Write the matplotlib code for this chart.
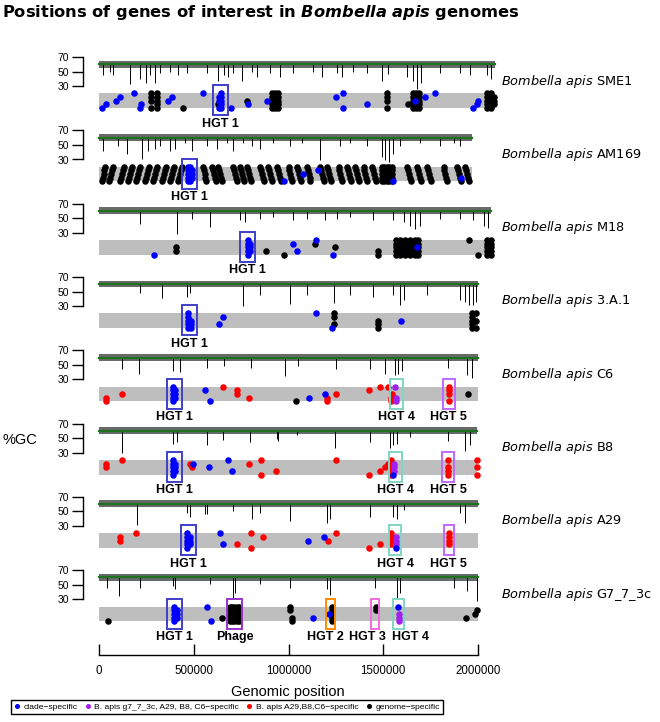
import matplotlib
matplotlib.use('Agg')
import matplotlib.pyplot as plt
from matplotlib import font_manager
from matplotlib.lines import Line2D
from matplotlib.patches import Rectangle

plt.rcParams['mathtext.fontset'] = 'custom'
plt.rcParams['mathtext.rm'] = 'DejaVu Sans'
plt.rcParams['mathtext.it'] = 'DejaVu Sans:italic'
plt.rcParams['mathtext.bf'] = 'DejaVu Sans:italic:bold'

# genome lengths in Mb
genome_names = ['SME1', 'AM169', 'M18', '3.A.1', 'C6', 'B8', 'A29', 'G7_7_3c']
genome_len = [2.09, 1.97, 2.07, 2.00, 2.00, 1.995, 2.00, 2.00]

# genes: (position Mb, stacked levels, category) b=clade, p=g7/A29/B8/C6, r=A29/B8/C6, k=genome
sme1_dots = [
    (0.014, '0', 'b'), (0.035, '1', 'b'), (0.090, '2', 'b'), (0.111, '3', 'b'),
    (0.185, '4', 'b'), (0.216, '0', 'b'), (0.223, '1', 'b'), (0.273, '0234', 'k'),
    (0.304, '01234', 'k'), (0.366, '2', 'b'), (0.387, '3', 'b'), (0.442, '0', 'k'),
    (0.551, '4', 'b'), (0.628, '1', 'k'), (0.632, '023', 'b'), (0.645, '01234', 'b'),
    (0.697, '0', 'b'), (0.779, '2', 'k'), (0.785, '1', 'b'), (0.885, '2', 'b'),
    (0.911, '01234', 'k'), (0.929, '01234', 'k'), (0.946, '01234', 'k'),
    (1.251, '3', 'b'), (1.289, '04', 'b'), (1.414, '1', 'b'), (1.518, '0234', 'k'),
    (1.632, '1', 'k'), (1.655, '01234', 'k'), (1.673, '01234', 'k'), (1.690, '01234', 'k'),
    (1.668, '2', 'b'), (1.720, '3', 'b'), (1.771, '4', 'b'),
    (1.972, '0', 'b'), (1.993, '1', 'b'), (1.998, '2', 'b'),
    (2.049, '01234', 'k'), (2.069, '01234', 'k'), (2.086, '123', 'k'),
]

am169_streak_x = [
    0.014, 0.019, 0.024, 0.029, 0.034, 0.055, 0.060, 0.065, 0.070, 0.075,
    0.111, 0.116, 0.121, 0.126, 0.131, 0.155, 0.160, 0.165, 0.170, 0.175,
    0.195, 0.200, 0.205, 0.210, 0.215, 0.243, 0.248, 0.253, 0.258, 0.263,
    0.287, 0.292, 0.297, 0.302, 0.307, 0.331, 0.336, 0.341, 0.346, 0.351,
    0.375, 0.380, 0.385, 0.390, 0.395, 0.419, 0.424, 0.429, 0.434, 0.439,
    0.547, 0.552, 0.557, 0.562, 0.567, 0.595, 0.600, 0.605, 0.610, 0.615,
    0.630, 0.635, 0.640, 0.645, 0.650, 0.709, 0.714, 0.719, 0.724, 0.729,
    0.744, 0.749, 0.754, 0.759, 0.764, 0.780, 0.785, 0.790, 0.795, 0.800,
    0.850, 0.855, 0.860, 0.865, 0.870, 0.894, 0.899, 0.904, 0.909, 0.914,
    0.938, 0.943, 0.948, 0.953, 0.958, 1.000, 1.005, 1.010, 1.015, 1.020,
    1.044, 1.049, 1.054, 1.059, 1.064, 1.096, 1.101, 1.106, 1.111, 1.116,
    1.167, 1.172, 1.177, 1.182, 1.187, 1.202, 1.207, 1.212, 1.217, 1.222,
    1.264, 1.269, 1.274, 1.279, 1.284, 1.308, 1.313, 1.318, 1.323, 1.328,
    1.352, 1.357, 1.362, 1.367, 1.372, 1.396, 1.401, 1.406, 1.411, 1.416,
    1.440, 1.445, 1.450, 1.455, 1.460, 1.624, 1.629, 1.634, 1.639, 1.644,
    1.677, 1.682, 1.687, 1.692, 1.697, 1.730, 1.735, 1.740, 1.745, 1.750,
    1.818, 1.823, 1.828, 1.833, 1.838, 1.888, 1.893, 1.898, 1.903, 1.908,
    1.933, 1.938, 1.943, 1.948, 1.953,
]
am169_streak_lvl = ('01234 01234 01234 01234 01234 01234 01234 01234 01234 01234 '
                    '43210 43210 43210 43210 43210 43210 43210 43210 43210 43210 '
                    '43210 43210 43210 43210 43210 43210 43210 43210 43210 43210 '
                    '43210 43210 43210 43210 43210').replace(' ', '')
am169_dots = [
    (0.470, '01234', 'b'), (0.480, '01234', 'b'), (0.490, '123', 'b'),
    (0.976, '0', 'b'), (1.078, '2', 'b'), (1.157, '3', 'b'),
    (1.492, '01234', 'k'), (1.505, '01234', 'k'), (1.518, '01234', 'k'),
    (1.531, '01234', 'k'), (1.544, '01234', 'k'),
    (1.553, '0', 'b'), (1.910, '1', 'b'),
]

m18_dots = [
    (0.289, '0', 'b'), (0.408, '12', 'k'), (0.785, '01234', 'b'), (0.795, '123', 'b'),
    (0.880, '1', 'k'), (0.975, '0', 'k'), (1.025, '3', 'b'), (1.047, '1', 'b'),
    (1.140, '3', 'k'), (1.145, '4', 'b'), (1.235, '0', 'b'), (1.245, '2', 'k'),
    (1.470, '01', 'k'), (1.565, '01234', 'k'), (1.590, '01234', 'k'), (1.615, '01234', 'k'),
    (1.640, '01234', 'k'), (1.665, '01234', 'k'), (1.685, '01234', 'k'), (1.676, '2', 'b'),
    (1.953, '4', 'k'), (1.998, '0', 'k'), (2.049, '01234', 'k'), (2.066, '01234', 'k'),
]

a31_dots = [
    (0.468, '01234', 'b'), (0.484, '012', 'b'), (0.633, '1', 'b'), (0.653, '3', 'b'),
    (1.145, '4', 'b'), (1.240, '134', 'k'), (1.230, '0', 'b'), (1.474, '012', 'k'),
    (1.594, '2', 'b'), (1.967, '01234', 'k'), (1.990, '024', 'k'),
]

c6_dots = [
    (0.035, '01', 'r'), (0.120, '2', 'r'), (0.390, '01234', 'b'), (0.403, '123', 'b'),
    (0.561, '3', 'b'), (0.584, '0', 'b'), (0.653, '4', 'r'), (0.727, '23', 'r'),
    (0.792, '1', 'r'), (1.040, '0', 'k'), (1.108, '1', 'b'), (1.193, '2', 'b'),
    (1.201, '01', 'r'), (1.249, '2', 'r'), (1.427, '3', 'r'), (1.483, '4', 'r'),
    (1.525, '4', 'r'), (1.540, '01', 'r'), (1.548, '2', 'r'), (1.560, '4', 'p'),
    (1.565, '01', 'p'), (1.847, '0234', 'r'), (1.949, '2', 'k'),
]

b8_dots = [
    (0.035, '23', 'r'), (0.120, '4', 'r'), (0.390, '01234', 'b'), (0.403, '123', 'b'),
    (0.480, '3', 'r'), (0.489, '2', 'r'), (0.498, '3', 'b'), (0.581, '2', 'b'),
    (0.679, '4', 'b'), (0.700, '1', 'b'), (0.792, '3', 'r'), (0.857, '04', 'r'),
    (0.934, '1', 'r'), (1.249, '4', 'r'), (1.427, '0', 'r'), (1.483, '1', 'r'),
    (1.510, '2', 'r'), (1.525, '3', 'r'), (1.540, '01234', 'r'), (1.557, '123', 'p'),
    (1.550, '0', 'b'), (1.840, '0124', 'r'), (1.993, '024', 'r'),
]

a29_dots = [
    (0.111, '23', 'r'), (0.195, '4', 'r'), (0.465, '01234', 'b'), (0.482, '123', 'b'),
    (0.639, '4', 'b'), (0.656, '1', 'b'), (0.727, '1', 'r'), (0.802, '04', 'r'),
    (0.867, '3', 'r'), (1.105, '2', 'b'), (1.189, '3', 'b'), (1.207, '2', 'r'),
    (1.249, '4', 'r'), (1.427, '0', 'r'), (1.483, '1', 'r'), (1.540, '1234', 'r'),
    (1.548, '23', 'r'), (1.565, '123', 'p'), (1.565, '0', 'b'), (1.847, '1234', 'r'),
]

g7_dots = [
    (0.046, '0', 'k'), (0.395, '01234', 'b'), (0.410, '123', 'b'), (0.568, '4', 'b'),
    (0.589, '0', 'b'), (0.647, '1', 'k'), (0.690, '01234', 'k'), (0.702, '01234', 'k'),
    (0.714, '01234', 'k'), (0.726, '01234', 'k'), (0.738, '01234', 'k'),
    (1.008, '34', 'k'), (1.020, '01', 'k'), (1.131, '1', 'b'), (1.228, '01234', 'k'),
    (1.215, '2', 'b'), (1.462, '34', 'k'), (1.576, '4', 'b'), (1.581, '012', 'p'),
    (1.937, '1', 'k'), (1.985, '2', 'k'), (1.993, '3', 'k'),
]

# %GC dips below the ~60% baseline: (position Mb, lowest %GC)
sme1_dips = [(0.023, 46), (0.058, 49), (0.076, 46), (0.164, 33), (0.216, 40), (0.246, 34),
             (0.269, 45), (0.295, 34), (0.322, 48), (0.375, 50), (0.419, 45), (0.463, 48),
             (0.568, 48), (0.630, 37), (0.657, 45), (0.683, 43), (0.709, 48), (0.753, 37),
             (0.806, 50), (0.832, 43), (0.903, 48), (0.955, 43), (1.026, 48), (1.131, 50),
             (1.176, 43), (1.255, 48), (1.281, 43), (1.343, 50), (1.414, 48), (1.492, 37),
             (1.527, 47), (1.624, 43), (1.659, 37), (1.680, 26), (1.697, 35), (1.800, 48),
             (1.905, 48), (1.958, 46), (2.050, 45), (2.070, 40)]
am169_dips = [(0.023, 42), (0.102, 49), (0.146, 38), (0.225, 31), (0.260, 42), (0.296, 45),
              (0.322, 49), (0.375, 42), (0.401, 45), (0.454, 53), (0.489, 42), (0.568, 49),
              (0.621, 45), (0.674, 53), (0.709, 42), (0.762, 53), (0.806, 49), (0.850, 45),
              (0.920, 53), (1.008, 49), (1.070, 53), (1.167, 29), (1.272, 49), (1.325, 53),
              (1.413, 49), (1.492, 33), (1.510, 29), (1.528, 26), (1.554, 38), (1.589, 49),
              (1.695, 53), (1.800, 49), (1.871, 53), (1.906, 49)]
m18_dips = [(0.216, 42), (0.410, 29), (0.489, 49), (0.586, 38), (0.744, 47), (0.771, 45),
            (0.850, 49), (0.920, 52), (1.026, 47), (1.096, 49), (1.193, 47), (1.255, 49),
            (1.325, 52), (1.448, 47), (1.554, 47), (1.607, 45), (1.642, 40), (1.668, 35),
            (1.695, 40), (1.800, 49), (1.906, 49), (1.976, 47), (2.030, 40), (2.055, 36)]
a31_dips = [(0.216, 48), (0.331, 41), (0.463, 43), (0.480, 48), (0.759, 30), (0.850, 45),
            (1.008, 33), (1.096, 45), (1.241, 34), (1.325, 45), (1.448, 43), (1.554, 45),
            (1.589, 31), (1.607, 39), (1.730, 45), (1.906, 39), (1.933, 35), (1.950, 31),
            (1.976, 31), (1.990, 36)]
c6_dips = [(0.123, 44), (0.210, 38), (0.390, 42), (0.430, 40), (0.570, 45), (0.660, 48),
           (0.800, 46), (0.980, 35), (1.050, 48), (1.250, 44), (1.430, 44), (1.510, 38),
           (1.560, 36), (1.580, 38), (1.600, 42), (1.840, 45), (1.940, 36), (1.970, 32)]
b8_dips = [(0.123, 30), (0.392, 42), (0.410, 44), (0.568, 40), (0.656, 47), (0.797, 44),
           (0.938, 49), (0.947, 46), (1.044, 54), (1.246, 37), (1.431, 44), (1.536, 37),
           (1.554, 40), (1.572, 42), (1.642, 51), (1.844, 46), (1.932, 32), (1.958, 40)]
a29_dips = [(0.199, 32), (0.463, 48), (0.480, 43), (0.559, 46), (0.568, 46), (0.709, 50),
            (0.806, 39), (0.850, 48), (1.008, 37), (1.202, 34), (1.220, 39), (1.431, 43),
            (1.554, 43), (1.572, 39), (1.607, 52), (1.906, 48), (1.932, 34)]
g7_dips = [(0.040, 46), (0.107, 34), (0.216, 46), (0.392, 48), (0.401, 44), (0.586, 51),
           (0.709, 32), (0.718, 39), (0.850, 51), (1.008, 46), (1.202, 44), (1.220, 36),
           (1.457, 46), (1.572, 32), (1.589, 39), (1.871, 46), (1.941, 41), (1.994, 27)]

# highlighted regions: (label, start Mb, end Mb)
sme1_boxes = [('HGT 1', 0.603, 0.682)]
am169_boxes = [('HGT 1', 0.440, 0.519)]
m18_boxes = [('HGT 1', 0.744, 0.823)]
a31_boxes = [('HGT 1', 0.440, 0.519)]
c6_boxes = [('HGT 1', 0.357, 0.438), ('HGT 4', 1.536, 1.602), ('HGT 5', 1.814, 1.879)]
b8_boxes = [('HGT 1', 0.357, 0.438), ('HGT 4', 1.532, 1.597), ('HGT 5', 1.810, 1.875)]
a29_boxes = [('HGT 1', 0.431, 0.512), ('HGT 4', 1.532, 1.595), ('HGT 5', 1.820, 1.873)]
g7_boxes = [('HGT 1', 0.357, 0.438), ('Phage', 0.674, 0.756), ('HGT 2', 1.196, 1.247),
            ('HGT 3', 1.437, 1.479), ('HGT 4', 1.550, 1.611)]
g7_label_x = {'HGT 2': 1.197, 'HGT 3': 1.414, 'HGT 4': 1.646}

legend_labels = ['clade\u2212specific', 'B. apis g7_7_3c, A29, B8, C6\u2212specific',
                 'B. apis A29,B8,C6\u2212specific', 'genome\u2212specific']

dot_colors = {'b': '#0000FF', 'p': '#A020F0', 'r': '#FF0000', 'k': '#000000'}
box_colors = {'HGT 1': '#4040C8', 'Phage': '#9932CC', 'HGT 2': '#FF8C00',
              'HGT 3': '#F06EDC', 'HGT 4': '#7FD6C4', 'HGT 5': '#C266FF'}

am169_all = [(x, l, 'k') for x, l in zip(am169_streak_x, am169_streak_lvl)] + am169_dots
panel_dots = [sme1_dots, am169_all, m18_dots, a31_dots, c6_dots, b8_dots, a29_dots, g7_dots]
panel_dips = [sme1_dips, am169_dips, m18_dips, a31_dips, c6_dips, b8_dips, a29_dips, g7_dips]
panel_boxes = [sme1_boxes, am169_boxes, m18_boxes, a31_boxes, c6_boxes, b8_boxes, a29_boxes, g7_boxes]

W, H = 660, 722
X0, XW = 99, 379      # pixel span of 0..2,000,000
K = 0.73              # pixels per %GC unit
fig = plt.figure(figsize=(W / 100, H / 100), dpi=100)

for i in range(8):
    y70 = 57 + 73.3 * i
    top = y70 - 5 * K
    bot = y70 + 103 * K
    ax = fig.add_axes([X0 / W, 1 - bot / H, XW / W, (bot - top) / H])
    ax.set_xlim(0, 2e6)
    ax.set_ylim(-33, 75)
    ax.patch.set_visible(False)
    for s in ['top', 'right', 'bottom']:
        ax.spines[s].set_visible(False)
    ax.spines['left'].set_bounds(30, 70)
    ax.spines['left'].set_position(('outward', 11.5))
    ax.spines['left'].set_linewidth(1.0)
    ax.set_xticks([])
    ax.set_yticks([30, 50, 70], labels=['30', '50', '70'], fontfamily='Liberation Sans')
    ax.tick_params(axis='y', length=8, width=1.0, labelsize=7.5, pad=2)

    L = genome_len[i] * 1e6
    ax.fill_between([0, L], 55.5, 65, color='#1a1a1a', alpha=0.65, lw=0, clip_on=False)
    dips = panel_dips[i]
    ax.vlines([d[0] * 1e6 for d in dips], [d[1] for d in dips], 60,
              color='black', lw=0.7, clip_on=False)
    ax.plot([0, L], [60, 60], color='#1d731d', lw=1.6, clip_on=False)
    ax.add_patch(Rectangle((0, 0), L, 20, fc='#BEBEBE', ec='none', clip_on=False, zorder=1))

    for cat in 'krpb':
        xs, ys = [], []
        for x, lv, c in panel_dots[i]:
            if c != cat:
                continue
            for ch in lv:
                xs.append(x * 1e6)
                ys.append(int(ch) * 5)
        if xs:
            ax.scatter(xs, ys, s=22, color=dot_colors[cat], lw=0, clip_on=False, zorder=3)

    for lab, x0, x1 in panel_boxes[i]:
        ax.add_patch(Rectangle((x0 * 1e6, -10), (x1 - x0) * 1e6, 41, fill=False,
                               ec=box_colors[lab], lw=1.4, clip_on=False, zorder=4))
        lx = (x0 + x1) / 2
        if i == 7 and lab in g7_label_x:
            lx = g7_label_x[lab]
        ax.text(lx * 1e6, -21.5, lab, ha='center', va='center', fontsize=9,
                fontweight='bold', fontfamily='Liberation Sans')

    ax.text(2.121e6, 37, r'$\mathit{Bombella\ apis}$ ' + genome_names[i],
            fontsize=9.3, va='center', ha='left', clip_on=False)

# bottom genomic position axis
axb = fig.add_axes([X0 / W, 1 - 655 / H, XW / W, 0.01])
axb.patch.set_visible(False)
for s in ['top', 'right', 'left']:
    axb.spines[s].set_visible(False)
axb.set_xlim(0, 2e6)
axb.set_yticks([])
axb.set_xticks([0, 500000, 1000000, 1500000, 2000000],
               labels=['0', '500000', '1000000', '1500000', '2000000'],
               fontfamily='Liberation Sans')
axb.tick_params(axis='x', direction='in', length=8, width=1.0, labelsize=8.3, pad=7)
axb.spines['bottom'].set_linewidth(1.0)

fig.text(288 / W, 1 - 692 / H, 'Genomic position', ha='center', va='center',
         fontsize=10.5, fontfamily='Liberation Sans')
fig.text(20 / W, 1 - 440 / H, '%GC', ha='center', va='center',
         fontsize=10.5, fontfamily='Liberation Sans')
fig.text(2 / W, 1 - 12 / H,
         r'Positions of genes of interest in $\mathbf{Bombella\ apis}$ genomes',
         ha='left', va='center', fontsize=11.7, fontweight='bold')

avail = {f.name for f in font_manager.fontManager.ttflist}
if 'Liberation Sans Narrow' in avail:
    leg_font, leg_size = 'Liberation Sans Narrow', 7.3
else:
    leg_font, leg_size = 'Liberation Sans', 6.1
handles = [Line2D([], [], marker='o', ls='', color=dot_colors[c], markersize=2.6)
           for c in 'bprk']
leg = fig.legend(handles, legend_labels, loc='center', bbox_to_anchor=(227 / W, 1 - 707 / H),
                 ncol=4, prop={'family': leg_font, 'size': leg_size},
                 handlelength=0.6, handletextpad=0.5, columnspacing=0.9, borderpad=0.35,
                 fancybox=False, edgecolor='black', framealpha=1)
leg.get_frame().set_linewidth(1.0)

fig.savefig('out.png', dpi=100)
